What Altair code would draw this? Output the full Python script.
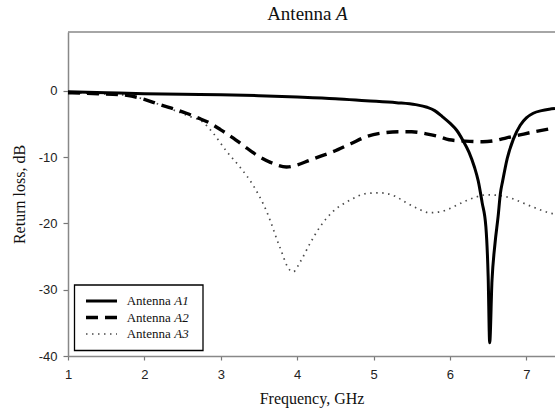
import altair as alt
import pandas as pd

# ---- data ----
a1_x = [1.0, 1.5, 2.0, 2.5, 3.0, 3.5, 4.0, 4.5, 4.9, 5.3, 5.55, 5.7, 5.8, 5.9, 6.0, 6.09, 6.17, 6.25,
        6.32, 6.37, 6.42, 6.47, 6.50, 6.52, 6.55, 6.59, 6.63, 6.66, 6.69, 6.75, 6.83, 6.92, 7.0, 7.09,
        7.2, 7.3, 7.375]
a1_y = [-0.15, -0.3, -0.45, -0.55, -0.6, -0.75, -0.95, -1.2, -1.5, -1.8, -2.1, -2.5, -3.0, -3.9, -4.9,
        -6.0, -7.5, -9.3, -11.5, -13.6, -16.8, -20.5, -28.0, -38.0, -28.7, -23.0, -19.0, -15.5, -13.6,
        -10.2, -7.3, -5.2, -4.1, -3.4, -3.0, -2.8, -2.7]

a2_x = [1.0, 1.4, 1.77, 2.0, 2.2, 2.4, 2.55, 2.7, 2.86, 3.0, 3.16, 3.3, 3.47, 3.65, 3.86, 4.0, 4.16,
        4.3, 4.47, 4.7, 4.91, 5.1, 5.34, 5.5, 5.69, 5.85, 5.99, 6.2, 6.43, 6.6, 6.74, 6.9, 7.1, 7.375]
a2_y = [-0.3, -0.45, -0.7, -1.3, -2.1, -2.8, -3.4, -4.1, -4.9, -5.9, -7.1, -8.3, -9.7, -10.8, -11.5,
        -11.2, -10.5, -9.9, -9.2, -8.0, -6.9, -6.4, -6.2, -6.2, -6.5, -6.9, -7.4, -7.6, -7.7, -7.5,
        -7.1, -6.7, -6.2, -5.6]

a3_x = [1.0, 1.4, 1.77, 2.0, 2.2, 2.4, 2.6, 2.75, 2.9, 3.08, 3.25, 3.42, 3.6, 3.77, 3.9, 3.95, 4.04,
        4.17, 4.3, 4.47, 4.69, 4.91, 5.08, 5.28, 5.43, 5.6, 5.73, 5.85, 5.95, 6.1, 6.21, 6.35, 6.48,
        6.65, 6.8, 6.91, 7.1, 7.33, 7.375]
a3_y = [-0.3, -0.45, -0.7, -1.3, -2.1, -3.0, -3.9, -4.6, -6.4, -9.2, -11.5, -14.2, -18.2, -23.5, -27.0,
        -27.3, -25.8, -23.0, -20.5, -18.2, -16.5, -15.5, -15.4, -15.9, -16.9, -17.9, -18.4, -18.3,
        -18.0, -17.2, -16.6, -16.0, -15.7, -15.8, -16.2, -16.7, -17.6, -18.5, -18.6]

x_ticks = [1, 2, 3, 4, 5, 6, 7]
y_ticks = [-40, -30, -20, -10, 0]
series_names = ["A1", "A2", "A3"]

W, H = 487, 324
X_DOMAIN = [1, 7.375]
Y_DOMAIN = [-40, 8.85]

xscale = alt.Scale(domain=X_DOMAIN, nice=False, zero=False)
yscale = alt.Scale(domain=Y_DOMAIN, nice=False, zero=False)

x_axis = alt.Axis(values=x_ticks, title="Frequency, GHz", tickSize=4, labelPadding=8,
                  titleY=47, titleBaseline="alphabetic", labelFlush=False)
y_axis = alt.Axis(values=y_ticks, title="Return loss, dB", tickSize=5, labelPadding=6,
                  labelExpr="'' + datum.value",
                  titleX=-44, titleY=H / 2, titleAngle=-90, titleBaseline="alphabetic",
                  titleAlign="center")


def line_layer(xs, ys, **mark):
    df = pd.DataFrame({"x": xs, "y": ys})
    return alt.Chart(df).mark_line(interpolate="monotone", clip=True, strokeJoin="round", **mark).encode(
        x=alt.X("x:Q", scale=xscale, axis=x_axis),
        y=alt.Y("y:Q", scale=yscale, axis=y_axis),
    )


l3 = line_layer(a3_x, a3_y, color="#4a4a4a", strokeWidth=1.7, strokeDash=[1.5, 4.5])
l2 = line_layer(a2_x, a2_y, color="black", strokeWidth=3.4, strokeDash=[12, 7])
l1 = line_layer(a1_x, a1_y, color="black", strokeWidth=3)

dummy = pd.DataFrame({"d": [0]})

top_border = alt.Chart(dummy).mark_rule(color="#888888", strokeWidth=1.5).encode(
    x=alt.value(0), x2=alt.value(W), y=alt.value(0)
)

# title: "Antenna " + italic "A"
title_df1 = pd.DataFrame({"t": ["Antenna"]})
title_df2 = pd.DataFrame({"t": ["A"]})
t1 = alt.Chart(title_df1).mark_text(font="Liberation Serif", fontSize=19, align="right",
                                    baseline="alphabetic", color="#111").encode(
    x=alt.value(263.5), y=alt.value(-12), text="t:N")
t2 = alt.Chart(title_df2).mark_text(font="Liberation Serif", fontSize=19, fontStyle="italic",
                                    align="left", baseline="alphabetic", color="#111").encode(
    x=alt.value(268), y=alt.value(-12), text="t:N")

# legend box
box = alt.Chart(dummy).mark_rect(fill="white", stroke="black", strokeWidth=1.3).encode(
    x=alt.value(6.5), x2=alt.value(135), y=alt.value(253), y2=alt.value(318.5)
)

legend_layers = [box]
row_y = [269, 285.5, 302]
styles = [
    dict(color="black", strokeWidth=3, strokeDash=[1, 0]),
    dict(color="black", strokeWidth=3.4, strokeDash=[12, 7]),
    dict(color="#4a4a4a", strokeWidth=1.7, strokeDash=[1.5, 4.5]),
]
for name, ry, st in zip(series_names, row_y, styles):
    legend_layers.append(
        alt.Chart(dummy).mark_rule(**st).encode(x=alt.value(18), x2=alt.value(49), y=alt.value(ry))
    )
    legend_layers.append(
        alt.Chart(pd.DataFrame({"t": ["Antenna"]})).mark_text(
            font="Liberation Serif", fontSize=13, align="left", baseline="middle", color="#111"
        ).encode(x=alt.value(58.7), y=alt.value(ry), text="t:N")
    )
    legend_layers.append(
        alt.Chart(pd.DataFrame({"t": [name]})).mark_text(
            font="Liberation Serif", fontSize=13, fontStyle="italic", align="left",
            baseline="middle", color="#111"
        ).encode(x=alt.value(106.3), y=alt.value(ry), text="t:N")
    )

chart = alt.layer(l3, l2, l1, top_border, t1, t2, *legend_layers).properties(
    width=W, height=H,
    autosize=alt.AutoSizeParams(type="none"),
    padding={"left": 68, "top": 32, "right": 0, "bottom": 56},
    background="white",
).configure_view(stroke=None).configure_axis(
    grid=False,
    domainColor="#888888",
    domainWidth=1.5,
    tickColor="#777777",
    tickWidth=1.2,
    labelFont="Liberation Sans",
    labelFontSize=13,
    labelColor="#222222",
    titleFont="Liberation Serif",
    titleFontSize=16,
    titleFontWeight="normal",
    titleColor="#111111",
)

chart.save("out.html", embed_options={"renderer": "svg", "actions": False})
